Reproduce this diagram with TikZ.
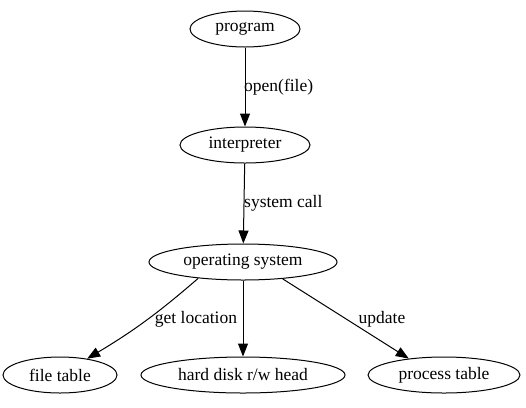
\documentclass[tikz,border=0pt]{standalone}
\usepackage{fontspec}
\setmainfont{Liberation Serif}
\usetikzlibrary{shapes.geometric,arrows.meta}
\begin{document}
\begin{tikzpicture}[x=1bp,y=-1bp,
  nd/.style={ellipse,draw,line width=1bp,inner sep=0pt,minimum height=36bp,font=\fontsize{17.5bp}{20bp}\selectfont},
  edge/.style={line width=1bp,-{Triangle[length=13bp,width=10bp]}},
  lbl/.style={font=\fontsize{17.5bp}{20bp}\selectfont,inner sep=0pt}]
\useasboundingbox (0,0) rectangle (526,407);
\node[nd,minimum width=110bp] (prog) at (245,29) {program};
\node[nd,minimum width=130bp] (interp) at (245,145) {interpreter};
\node[nd,minimum width=188bp] (os) at (243,262) {operating system};
\node[nd,minimum width=114bp] (ft) at (60,375) {file table};
\node[nd,minimum width=204bp] (hd) at (243,375) {hard disk r/w head};
\node[nd,minimum width=152bp] (pt) at (444,375) {process table};
\draw[edge] (prog) -- (interp);
\draw[edge] (interp) -- (os);
\draw[edge] (os.200) to[bend left=5] (ft.31);
\draw[edge] (os) -- (hd);
\draw[edge] (os.337) -- (pt.155);
\node[lbl,anchor=west] (l1) at (244,87) {open(file)};
\node[lbl,anchor=west] (l2) at (244,203) {system call};
\node[lbl] (l3) at (196,319) {get location};
\node[lbl] (l4) at (382,319) {update};
\end{tikzpicture}
\end{document}
